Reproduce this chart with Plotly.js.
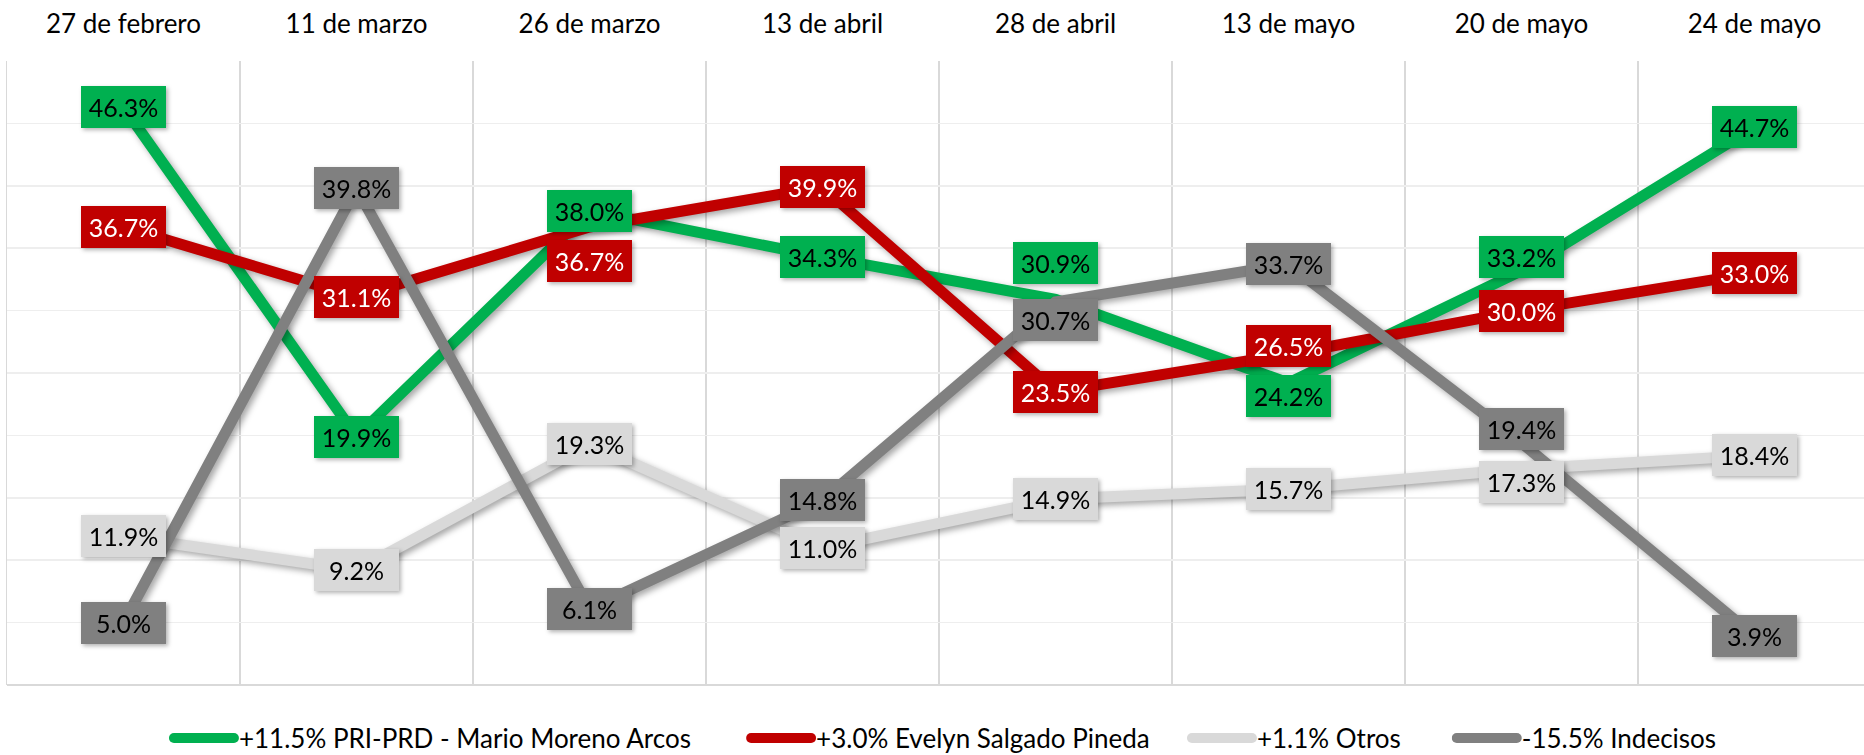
<!DOCTYPE html>
<html>
<head>
<meta charset="utf-8">
<script src="https://cdn.plot.ly/plotly-3.0.1.min.js"></script>
<style>
  html, body { margin: 0; padding: 0; background: #ffffff; overflow: hidden; }
  #chart { width: 1864px; height: 755px; }
  .scatterlayer .trace { filter: drop-shadow(3px 3px 3px rgba(0,0,0,0.35)); }
  .annotation { filter: drop-shadow(2px 2px 2px rgba(0,0,0,0.30)); }
  .legendlines path { stroke-linecap: round; }
</style>
</head>
<body>
<div id="chart"></div>
<script>
// ---- data ----
const categories = ["27 de febrero", "11 de marzo", "26 de marzo", "13 de abril",
                    "28 de abril", "13 de mayo", "20 de mayo", "24 de mayo"];

const seriesNames = ["+11.5% PRI-PRD - Mario Moreno Arcos", "+3.0% Evelyn Salgado Pineda",
                     "+1.1% Otros", "-15.5% Indecisos"];

const priPrd    = [46.3, 19.9, 38.0, 34.3, 30.9, 24.2, 33.2, 44.7];
const evelyn    = [36.7, 31.1, 36.7, 39.9, 23.5, 26.5, 30.0, 33.0];
const otros     = [11.9,  9.2, 19.3, 11.0, 14.9, 15.7, 17.3, 18.4];
const indecisos = [ 5.0, 39.8,  6.1, 14.8, 30.7, 33.7, 19.4,  3.9];

// ---- styling (not data) ----
const colors     = ["#00b050", "#c00000", "#d9d9d9", "#808080"];
const labelColor = ["#000000", "#ffffff", "#000000", "#000000"];
// manual label nudges in pixels (positive = up), like the hand-placed labels of the original
const labelShift = [
  [0, 0, 0, 0, 36, -13, 14, 0],
  [0, 0, -34, 0, 0, 8, 0, 0],
  [0, 0, 0, 0, 0, 0, -13, 0],
  [0, 0, 0, 0, -18, 0, 14, 0]
];
const legendIds = ["legend", "legend2", "legend3", "legend4"];
const legendX   = [0.0872, 0.398, 0.6354, 0.778];

const allSeries = [priPrd, evelyn, otros, indecisos];
const FONT = "Lato, 'Open Sans', sans-serif";

const traces = allSeries.map((vals, s) => ({
  type: "scatter",
  mode: "lines",
  name: seriesNames[s],
  x: categories,
  y: vals,
  line: { color: colors[s], width: 11 },
  legend: legendIds[s],
  hoverinfo: "skip"
}));

const annotations = [];
allSeries.forEach((vals, s) => {
  vals.forEach((v, i) => {
    annotations.push({
      x: categories[i],
      y: v,
      xref: "x",
      yref: "y",
      text: v.toFixed(1) + "%",
      showarrow: false,
      yshift: labelShift[s][i],
      bgcolor: colors[s],
      borderpad: 0,
      borderwidth: 0,
      width: 85,
      height: 42,
      font: { family: FONT, size: 25, color: labelColor[s] }
    });
  });
});

const layout = {
  width: 1864,
  height: 755,
  margin: { l: 7, r: 0, t: 61, b: 70 },
  paper_bgcolor: "#ffffff",
  plot_bgcolor: "#ffffff",
  font: { family: FONT, color: "#000000" },
  showlegend: true,
  xaxis: {
    type: "category",
    side: "top",
    range: [-0.5, 7.47],
    tickson: "boundaries",
    ticks: "",
    ticklabelstandoff: 22,
    showgrid: true,
    gridcolor: "#d9d9d9",
    gridwidth: 1.5,
    showline: false,
    zeroline: false,
    tickfont: { family: FONT, size: 26, color: "#000000" },
    fixedrange: true
  },
  yaxis: {
    range: [0, 50],
    dtick: 5,
    tick0: 0,
    showticklabels: false,
    ticks: "",
    showgrid: true,
    gridcolor: "#eeeeee",
    gridwidth: 1.5,
    zeroline: true,
    zerolinecolor: "#d9d9d9",
    zerolinewidth: 2,
    showline: true,
    linecolor: "#d9d9d9",
    linewidth: 1.5,
    fixedrange: true
  },
  annotations: annotations
};

legendIds.forEach((id, s) => {
  layout[id] = {
    orientation: "h",
    x: legendX[s],
    xanchor: "left",
    yref: "container",
    y: 0.0225,
    yanchor: "middle",
    itemwidth: 60,
    bgcolor: "rgba(0,0,0,0)",
    borderwidth: 0,
    font: { family: FONT, size: 26, color: "#000000" },
    itemclick: false,
    itemdoubleclick: false
  };
});

Plotly.newPlot("chart", traces, layout, { displayModeBar: false, staticPlot: true });
</script>
</body>
</html>
